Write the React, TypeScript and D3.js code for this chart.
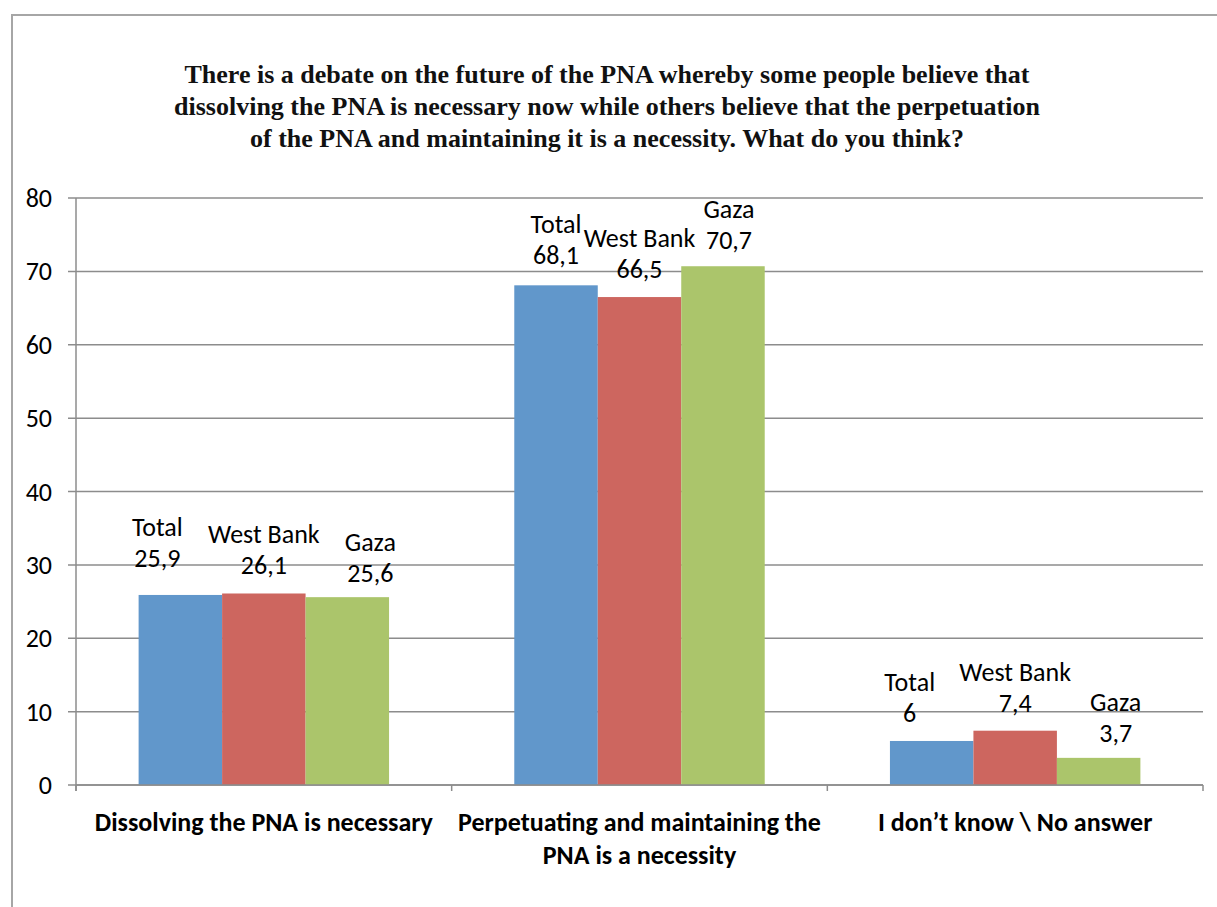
import React from "react";
import * as d3 from "d3";

const categories = [
  ["Dissolving the PNA is necessary"],
  ["Perpetuating and maintaining the", "PNA is a necessity"],
  ["I don\u2019t know \\ No answer"],
];
const seriesNames = ["Total", "West Bank", "Gaza"];
const totalValues = [25.9, 68.1, 6];
const westBankValues = [26.1, 66.5, 7.4];
const gazaValues = [25.6, 70.7, 3.7];
const yTicks = [0, 10, 20, 30, 40, 50, 60, 70, 80];
const titleLines = [
  "There is a debate on the future of the PNA whereby some people believe that",
  "dissolving the PNA is necessary now while others believe that the perpetuation",
  "of  the PNA and maintaining it is a necessity. What do you think?",
];
const colors = ["#6197cb", "#cd665f", "#abc56b"];
// label nudges [dx, dy] per category, per series (labels were moved by hand in the original)
const labelNudges = [
  [[-23, -9], [0, 0], [23, 4]],
  [[0, -2], [0, 0], [6, 2]],
  [[-22, 0], [0, 0], [17, 3]],
];

const App = () => {
  const width = 1217;
  const height = 907;
  const left = 76;
  const right = 1203;
  const top = 198;
  const bottom = 785;

  const series = [totalValues, westBankValues, gazaValues];
  const x0 = d3.scaleBand<number>().domain([0, 1, 2]).range([left, right]);
  const bw = x0.bandwidth();
  const barW = bw / 4.5;
  const x1 = d3
    .scaleBand<number>()
    .domain([0, 1, 2])
    .range([barW * 0.75, barW * 3.75]);
  const y = d3.scaleLinear().domain([0, 80]).range([bottom, top]);

  const fmt = (v: number) => String(v).replace(".", ",");
  const labelFont = "Carlito, Lato, 'Open Sans', sans-serif";

  return (
    <svg width={width} height={height} style={{ display: "block", position: "absolute", left: 0, top: 0 }}>
      <rect width={width} height={height} fill="white" />
      {/* frame */}
      <path d={`M12,${height + 5} V15 H${width + 5}`} stroke="#a6a6a6" strokeWidth={2} fill="none" />

      {/* title */}
      {titleLines.map((t, i) => (
        <text
          key={i}
          x={607}
          y={83 + i * 32}
          textAnchor="middle"
          fontFamily="'Liberation Serif', 'DejaVu Serif', serif"
          fontWeight="bold"
          fontSize={26}
          fill="#111"
        >
          {t}
        </text>
      ))}

      {/* gridlines + y ticks */}
      {yTicks.map((t) => (
        <g key={t}>
          <line x1={68} x2={right} y1={y(t)} y2={y(t)} stroke="#8c8c8c" strokeWidth={1.5} />
          <text
            x={52}
            y={y(t) + 9}
            textAnchor="end"
            fontFamily={labelFont}
            fontSize={26}
            fill="#000"
          >
            {t}
          </text>
        </g>
      ))}
      <line x1={left} x2={left} y1={top} y2={bottom + 6} stroke="#8c8c8c" strokeWidth={1.5} />
      {[0, 1, 2, 3].map((i) => {
        const xx = left + i * bw;
        return <line key={i} x1={xx} x2={xx} y1={bottom} y2={bottom + 6} stroke="#8c8c8c" strokeWidth={1.5} />;
      })}

      {/* bars */}
      {categories.map((_, ci) => (
        <g key={ci} transform={`translate(${x0(ci)},0)`}>
          {series.map((vals, si) => (
            <rect
              key={si}
              x={x1(si)}
              y={y(vals[ci])}
              width={barW}
              height={bottom - y(vals[ci])}
              fill={colors[si]}
            />
          ))}
        </g>
      ))}
      <line x1={left} x2={right} y1={bottom} y2={bottom} stroke="#8c8c8c" strokeWidth={1.5} />

      {/* data labels */}
      {categories.map((_, ci) =>
        series.map((vals, si) => {
          const cx = (x0(ci) as number) + (x1(si) as number) + barW / 2 + labelNudges[ci][si][0];
          const vy = y(vals[ci]) - 19 + labelNudges[ci][si][1];
          return (
            <g key={`${ci}-${si}`} fontFamily={labelFont} fontSize={26} textAnchor="middle" fill="#000">
              <text x={cx} y={vy - 31}>{seriesNames[si]}</text>
              <text x={cx} y={vy}>{fmt(vals[ci])}</text>
            </g>
          );
        })
      )}

      {/* category labels */}
      {categories.map((lines, ci) => (
        <g key={ci}>
          {lines.map((l, li) => (
            <text
              key={li}
              x={(x0(ci) as number) + bw / 2}
              y={831 + li * 33}
              textAnchor="middle"
              fontFamily={labelFont}
              fontWeight="bold"
              fontSize={26}
              fill="#000"
            >
              {l}
            </text>
          ))}
        </g>
      ))}
    </svg>
  );
};

export default App;
